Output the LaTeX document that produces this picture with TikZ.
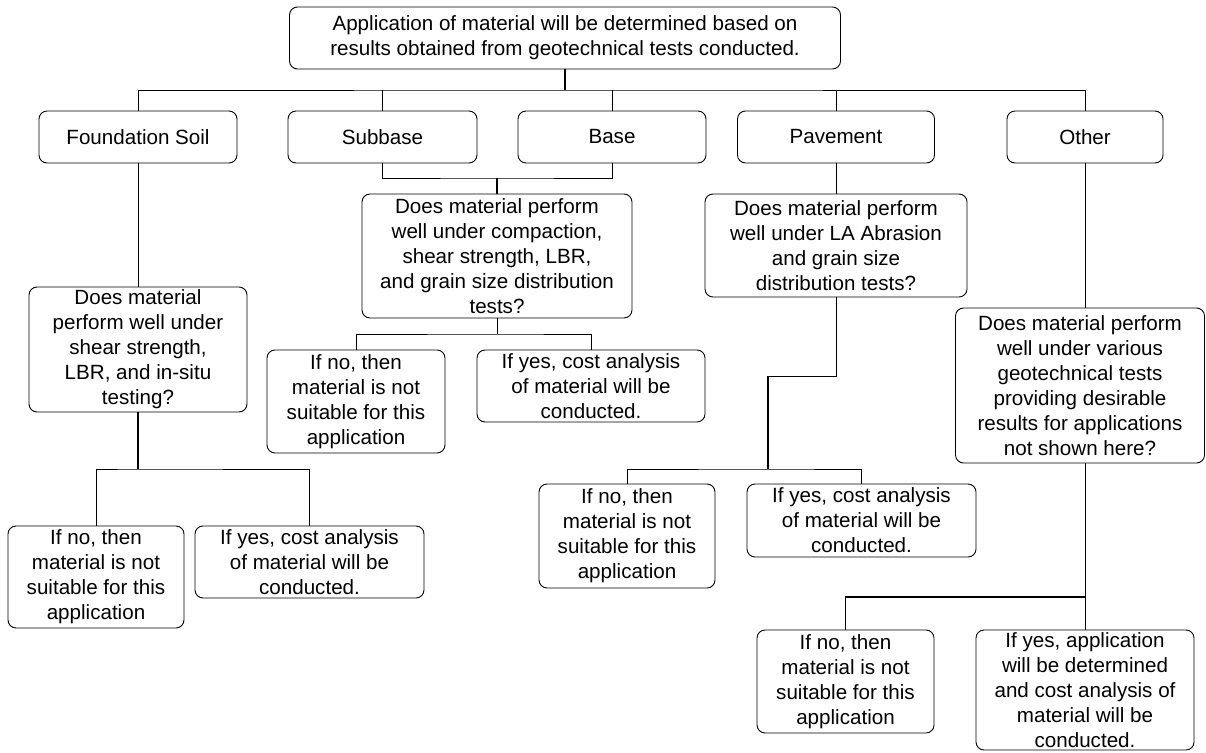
\documentclass[tikz,border=0pt]{standalone}
\usepackage{fontspec}
\setmainfont{Liberation Sans}
\usetikzlibrary{calc}

\begin{document}
\begin{tikzpicture}[x=1pt, y=-1pt,
		box/.style={draw, rounded corners=8pt, line width=0.9pt, align=center, inner sep=0pt, font=\fontsize{20.6}{25}\selectfont},
		link/.style={line width=0.9pt},
		heavy/.style={line width=1.8pt}]
			\useasboundingbox (0,0) rectangle (1206,752);
			\node[box, minimum width=551, minimum height=62] (top) at (565,38) {Application of material will be determined based on\\results obtained from geotechnical tests conducted.};
			\node[box, minimum width=198, minimum height=52] (found) at (138,137) {Foundation Soil};
			\node[box, minimum width=189, minimum height=52] (sub) at (382.5,137) {Subbase};
			\node[box, minimum width=188, minimum height=52] (base) at (612,137) {Base};
			\node[box, minimum width=197, minimum height=52] (pave) at (836,137) {Pavement};
			\node[box, minimum width=156, minimum height=52] (other) at (1085,137) {Other};
			\node[box, minimum width=218, minimum height=125] (qfound) at (138,349.5) {Does material\\perform well under\\shear strength,\\LBR, and in-situ\\testing?};
			\node[box, minimum width=270, minimum height=124] (qsub) at (497,256) {Does material perform\\well under compaction,\\shear strength, LBR,\\and grain size distribution\\tests?};
			\node[box, minimum width=262, minimum height=103] (qpave) at (836,245.5) {Does material perform\\well under LA Abrasion\\and grain size\\distribution tests?};
			\node[box, minimum width=249, minimum height=155] (qother) at (1080,385.5) {Does material perform\\well under various\\geotechnical tests\\providing desirable\\results for applications\\not shown here?};
			\node[box, minimum width=176, minimum height=102] (fno) at (96,577) {If no, then\\material is not\\suitable for this\\application};
			\node[box, minimum width=229, minimum height=72] (fyes) at (309.5,562) {If yes, cost analysis\\of material will be\\conducted.};
			\node[box, minimum width=178, minimum height=103] (sno) at (356,401.5) {If no, then\\material is not\\suitable for this\\application};
			\node[box, minimum width=228, minimum height=72] (syes) at (591,386) {If yes, cost analysis\\of material will be\\conducted.};
			\node[box, minimum width=176, minimum height=104] (pno) at (627,536) {If no, then\\material is not\\suitable for this\\application};
			\node[box, minimum width=229, minimum height=73] (pyes) at (861.5,520.5) {If yes, cost analysis\\of material will be\\conducted.};
			\node[box, minimum width=177, minimum height=103] (ono) at (845.5,681.5) {If no, then\\material is not\\suitable for this\\application};
			\node[box, minimum width=218, minimum height=120] (oyes) at (1085,690) {If yes, application\\will be determined\\and cost analysis of\\material will be\\conducted.};
			\coordinate (bar) at (565,90);
			\coordinate (join) at (497,178);
			\coordinate (fsplit) at (138,469);
			\coordinate (ssplit) at (497,334);
			\coordinate (pbend) at (768,376);
			\coordinate (psplit) at (768,469);
			\coordinate (osplit) at (1085,597);
			\draw[heavy] (top.south) -- (bar);
			\draw[link] (found.north) |- (bar) -| (other.north);
			\foreach \n in {sub,base,pave} \draw[link] (\n.north) -- (\n.north |- bar);
			\draw[link] (sub.south) |- (join) -| (base.south);
			\draw[heavy] (join) -- (qsub.north);
			\draw[link] (found.south) -- (qfound.north);
			\draw[heavy] (qfound.south) -- (fsplit);
			\draw[link] (fno.north) |- (fsplit) -| (fyes.north);
			\draw[link] (qsub.south) -- (ssplit);
			\draw[link] (sno.north) |- (ssplit) -| (syes.north);
			\draw[link] (pave.south) -- (qpave.north);
			\draw[link] (qpave.south) |- (pbend);
			\draw[heavy] (pbend) -- (psplit);
			\draw[link] (pno.north) |- (psplit) -| (pyes.north);
			\draw[link] (other.south) -- (other.south |- qother.north);
			\draw[link] (oyes.north |- qother.south) -- (oyes.north);
			\draw[heavy] (osplit) -| (ono.north);
		\end{tikzpicture}
\end{document}
